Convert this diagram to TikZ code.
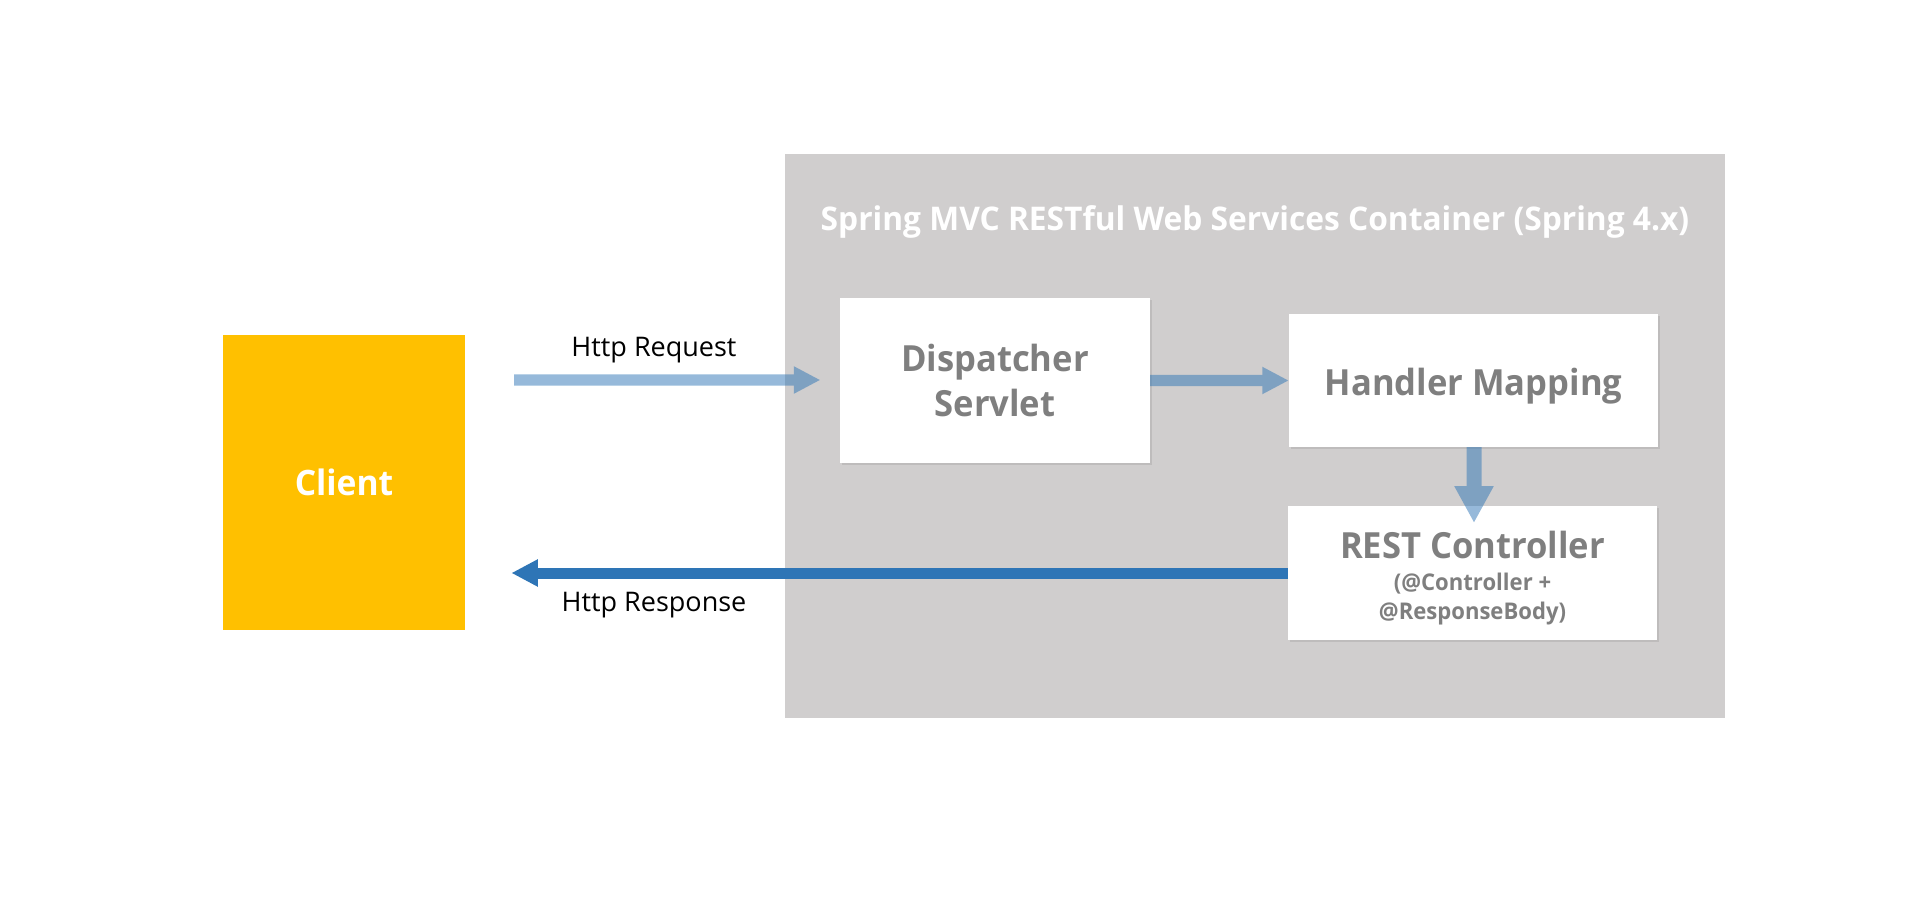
\documentclass[tikz,border=0pt]{standalone}
\usepackage{fontspec}
\setmainfont{Open Sans}
\newfontfamily\boxfont[FakeStretch=0.96]{Open Sans}
\newfontfamily\titlefont[FakeStretch=0.973]{Open Sans}
\usetikzlibrary{arrows.meta,shadows}
\definecolor{contgray}{HTML}{D0CECE}
\definecolor{clientyellow}{HTML}{FFC000}
\definecolor{arrowblue}{HTML}{2E75B6}
\definecolor{boxtext}{HTML}{7F7F7F}
\begin{document}
\begin{tikzpicture}[x=1pt,y=1pt,
  containerbox/.style={fill=contgray, draw=none, inner sep=0pt, minimum width=940, minimum height=564},
  whitebox/.style={fill=white, draw=none, inner sep=0pt, text=boxtext, align=center,
    font=\boxfont\bfseries\fontsize{36}{45}\selectfont,
    drop shadow={shadow xshift=2pt, shadow yshift=-2pt, opacity=0.22}},
  clientbox/.style={fill=clientyellow, draw=none, inner sep=0pt, text=white,
    font=\boxfont\bfseries\fontsize{35}{42}\selectfont},
  titletext/.style={text=white, inner sep=0pt, font=\titlefont\bfseries\fontsize{32.6}{40}\selectfont},
  httplabel/.style={text=black, inner sep=0pt, font=\fontsize{27}{32}\selectfont},
  lightarrow/.style={draw=arrowblue, line width=11.3pt, -{Triangle[length=26.5pt,width=25.4pt]}},
  downarrow/.style={draw=arrowblue, line width=15pt, -{Triangle[length=37pt,width=36.8pt]}},
  darkarrow/.style={draw=arrowblue, line width=11pt, -{Triangle[length=26.5pt,width=25.6pt]}}
]
\fill[white] (0,0) rectangle (1920,-912);
\useasboundingbox (0,0) rectangle (1920,-912);

% container
\node[containerbox] (container) at (1255,-436) {};
\node[titletext, anchor=base] (title) at (1255,-231) {Spring MVC RESTful Web Services Container (Spring 4.x)};

% client
\node[clientbox, minimum width=242, minimum height=295] (client) at (344,-482.5) {Client};

% boxes
\node[whitebox, minimum width=310, minimum height=165] (disp) at (995,-380.5) {Dispatcher\\Servlet};
\node[whitebox, minimum width=369, minimum height=133] (hm) at (1473.5,-380.5) {\rule{0pt}{39.5pt}Handler Mapping};
\node[whitebox, minimum width=369, minimum height=134, font=\boxfont\bfseries\fontsize{23}{29}\selectfont] (rest) at (1472.5,-573)
  {\rule{0pt}{38pt}{\fontsize{36}{45}\selectfont REST Controller}\\[3pt](@Controller +\\@ResponseBody)};

% coordinates for free ends
\coordinate (reqs) at (514,-380);
\coordinate (reqe) at (820.4,-380);
\coordinate (hmend) at (1474,-523);
\coordinate (rese) at (511.4,-573);

% labels
\node[httplabel, anchor=base] (reqlabel) at (654,-356) {Http Request};
\node[httplabel, anchor=base] (reslabel) at (654,-611) {Http Response};

% arrows
\draw[darkarrow] (rest.west) -- (rese);
\begin{scope}[transparency group, opacity=0.5]
  \draw[lightarrow] (reqs) -- (reqe);
  \draw[lightarrow] (disp.east) -- (hm.west);
  \draw[downarrow] (hm.south -| hmend) -- (hmend);
\end{scope}
\end{tikzpicture}
\end{document}
